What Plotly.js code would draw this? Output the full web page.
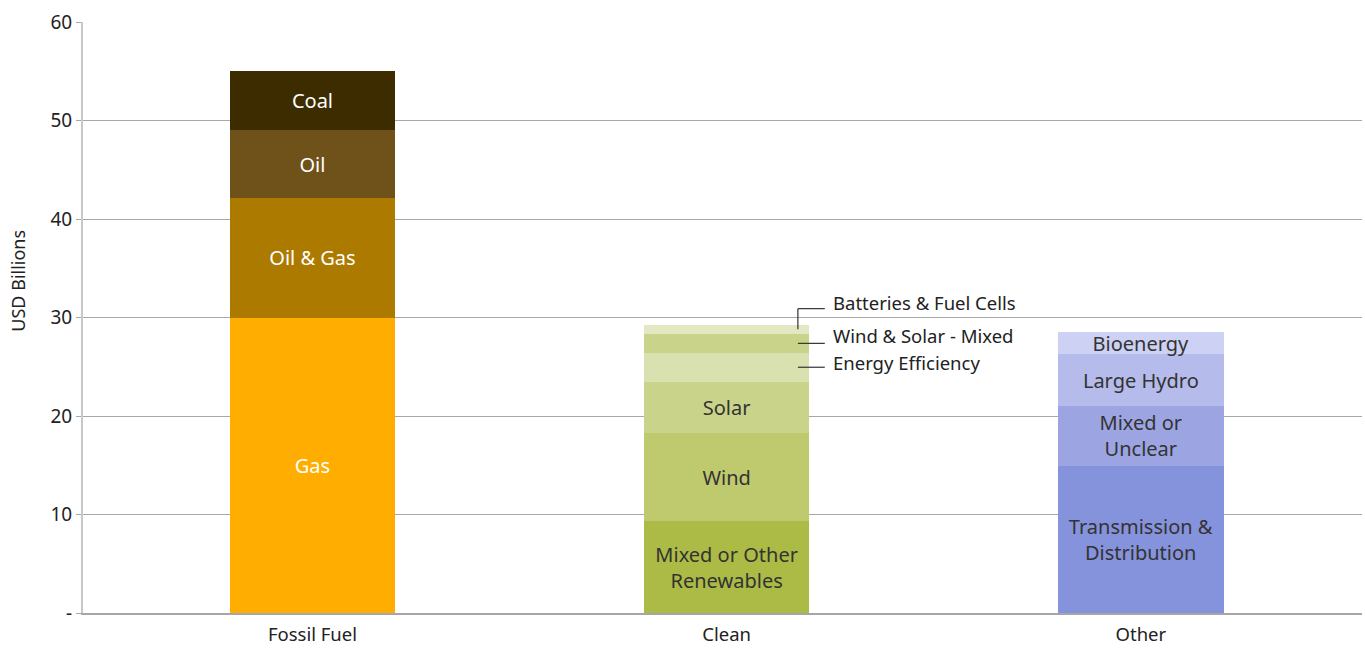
<!DOCTYPE html>
<html>
<head>
<meta charset="utf-8">
<script src="https://cdn.plot.ly/plotly-3.0.1.min.js"></script>
<style>html,body{margin:0;padding:0;background:#fff;}#chart{width:1365px;height:648px;}</style>
</head>
<body>
<div id="chart"></div>
<script>
// ---- data ----
const categories = ["Fossil Fuel", "Clean", "Other"];

const fossilSegments = ["Gas", "Oil & Gas", "Oil", "Coal"];
const fossilValues   = [30.0, 12.1, 6.9, 6.0];

const cleanSegments = ["Mixed or Other<br>Renewables", "Wind", "Solar", "Energy Efficiency", "Wind & Solar - Mixed", "Batteries & Fuel Cells"];
const cleanValues   = [9.3, 9.0, 5.2, 2.9, 1.95, 0.9];
const cleanInBar    = [true, true, true, false, false, false];

const otherSegments = ["Transmission &<br>Distribution", "Mixed or<br>Unclear", "Large Hydro", "Bioenergy"];
const otherValues   = [14.95, 6.1, 5.2, 2.3];

const yTickVals  = [0, 10, 20, 30, 40, 50, 60];
const yTickText  = ["-", "10", "20", "30", "40", "50", "60"];
const yAxisTitle = "USD Billions";

// ---- styles ----
const fossilColors = ["#FFAD00", "#AD7A00", "#6F5219", "#3D2C00"];
const cleanColors  = ["#ABBB45", "#BFC96E", "#CAD38A", "#DAE1B1", "#C9D38A", "#E3E8C3"];
const otherColors  = ["#8592DC", "#9CA5E2", "#B5BBEB", "#CDD1F3"];
const FONT = "Noto Sans, sans-serif";

const traces = [];
function addGroup(cat, names, vals, colors, txtColor, showText) {
  names.forEach((n, i) => {
    const show = showText ? showText[i] : true;
    traces.push({
      type: "bar",
      x: [cat],
      y: [vals[i]],
      name: n.replace(/<br>/g, " "),
      marker: { color: colors[i], line: { width: 0 } },
      text: show ? [n] : [""],
      textposition: show ? "inside" : "none",
      insidetextanchor: "middle",
      constraintext: "none",
      textfont: { family: FONT, size: 20, color: txtColor },
      width: 0.4,
      hoverinfo: "x+y+name"
    });
  });
}
addGroup(categories[0], fossilSegments, fossilValues, fossilColors, "#ffffff");
addGroup(categories[1], cleanSegments, cleanValues, cleanColors, "#333333", cleanInBar);
addGroup(categories[2], otherSegments, otherValues, otherColors, "#333333");

// leader lines and callouts for the small clean segments
const shapes = [];
const annotations = [];
let cum = 0;
const centers = cleanValues.map(v => { const c = cum + v / 2; cum += v; return c; });
const cleanTotal = cum;
const lx0 = 1.172, lx1 = 1.237, tx = 1.252;
const lineStyle = { color: "#333333", width: 1.2 };
const calloutShift = { 3: 5, 4: 8, 5: 6 };
cleanSegments.forEach((name, i) => {
  if (cleanInBar[i]) return;
  let ly = centers[i];
  if (i === cleanSegments.length - 1) {
    ly = cleanTotal + 1.65;
    shapes.push({ type: "line", xref: "x", yref: "y", x0: lx0, x1: lx0, y0: centers[i], y1: ly, line: lineStyle });
  }
  shapes.push({ type: "line", xref: "x", yref: "y", x0: lx0, x1: lx1, y0: ly, y1: ly, line: lineStyle });
  annotations.push({
    xref: "x", yref: "y", x: tx, y: ly, text: name, showarrow: false,
    xanchor: "left", yanchor: "middle", yshift: calloutShift[i],
    font: { family: FONT, size: 18.5, color: "#222222" }
  });
});

annotations.push({
  xref: "paper", yref: "paper", x: -0.0505, y: 0.563, xanchor: "center", yanchor: "middle",
  text: yAxisTitle, textangle: -90, showarrow: false,
  font: { family: FONT, size: 18, color: "#222222" }
});

const layout = {
  width: 1365, height: 648,
  margin: { l: 83, r: 3, t: 22, b: 35 },
  paper_bgcolor: "#ffffff", plot_bgcolor: "#ffffff",
  barmode: "stack",
  showlegend: false,
  font: { family: FONT, color: "#222222" },
  xaxis: {
    type: "category",
    range: [-0.554, 2.534],
    showgrid: false,
    showline: true, linecolor: "#a6a6a6", linewidth: 2,
    ticks: "",
    ticklabelstandoff: 4,
    tickfont: { family: FONT, size: 18.5, color: "#222222" },
    zeroline: false, fixedrange: true
  },
  yaxis: {
    range: [0, 60],
    tickvals: yTickVals, ticktext: yTickText,
    showgrid: true, gridcolor: "#a8a8a8", gridwidth: 1,
    showline: true, linecolor: "#c8c8c8", linewidth: 2,
    ticks: "outside", ticklen: 5, tickcolor: "#a8a8a8",
    tickfont: { family: FONT, size: 19, color: "#222222" },
    zeroline: false, fixedrange: true
  },
  shapes: shapes,
  annotations: annotations
};

Plotly.newPlot("chart", traces, layout, { displayModeBar: false, staticPlot: true });
</script>
</body>
</html>
